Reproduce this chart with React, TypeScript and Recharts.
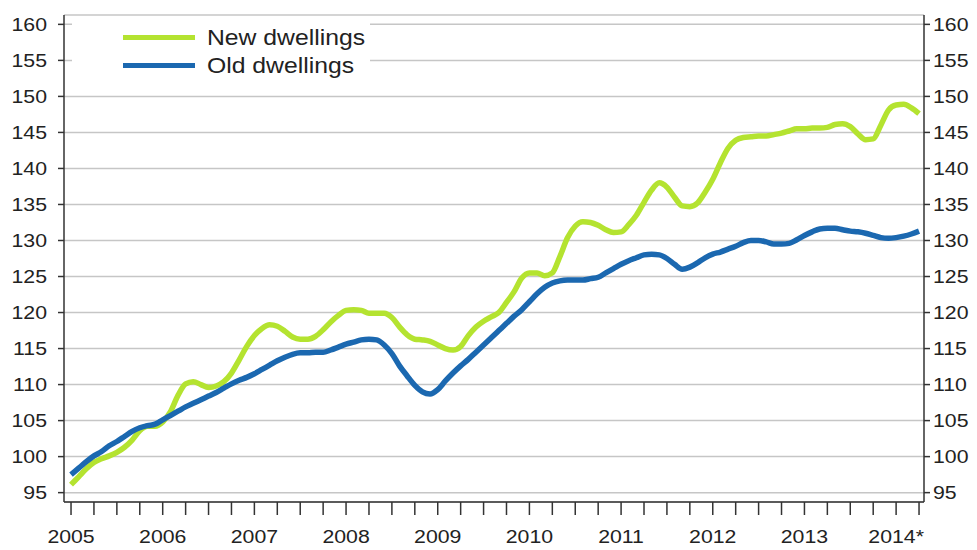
import React from 'react';
import { LineChart, Line, XAxis, YAxis, CartesianGrid } from 'recharts';

const newDwellings = [
  96.1, 97.2, 98.3, 99.2, 99.7, 100.1, 100.6, 101.3, 102.3, 103.6, 104.2, 104.2,
  104.8, 106.2, 108.5, 110.1, 110.4, 110.0, 109.6, 109.8, 110.4, 111.6, 113.4, 115.3,
  116.8, 117.8, 118.3, 118.1, 117.4, 116.6, 116.3, 116.3, 116.7, 117.6, 118.7, 119.6,
  120.3, 120.4, 120.3, 119.9, 119.9, 119.9, 119.3, 118.0, 116.9, 116.3, 116.2, 116.0,
  115.5, 115.0, 114.8, 115.3, 116.8, 118.0, 118.8, 119.4, 120.0, 121.4, 122.9, 124.8,
  125.5, 125.5, 125.1, 125.5, 127.8, 130.4, 132.0, 132.6, 132.5, 132.1, 131.5, 131.1,
  131.2, 132.2, 133.5, 135.3, 137.0, 138.0, 137.4, 136.0, 134.8, 134.7, 135.2, 136.7,
  138.5, 140.8, 142.8, 143.9, 144.3, 144.4, 144.5, 144.5, 144.7, 144.9, 145.2, 145.5,
  145.5, 145.6, 145.6, 145.7, 146.1, 146.2, 145.8, 144.8, 144.0, 144.1, 146.0, 148.1,
  148.8, 148.9, 148.4, 147.6,
];

const oldDwellings = [
  97.5, 98.4, 99.3, 100.1, 100.7, 101.5, 102.1, 102.8, 103.5, 104.0, 104.3, 104.5,
  105.1, 105.7, 106.3, 106.9, 107.4, 107.9, 108.4, 108.9, 109.5, 110.1, 110.6, 111.0,
  111.5, 112.1, 112.7, 113.3, 113.8, 114.2, 114.4, 114.4, 114.5, 114.5, 114.8, 115.2,
  115.6, 115.9, 116.2, 116.3, 116.2, 115.5, 114.3, 112.6, 111.2, 109.9, 109.0, 108.7,
  109.3, 110.5, 111.6, 112.6, 113.5, 114.5, 115.5, 116.5, 117.5, 118.5, 119.5, 120.4,
  121.5, 122.6, 123.5, 124.1, 124.4, 124.5, 124.5, 124.5, 124.7, 124.9, 125.5, 126.1,
  126.7, 127.2, 127.6, 128.0, 128.1, 128.0, 127.5, 126.7, 126.0, 126.3, 126.9, 127.6,
  128.1, 128.4, 128.8, 129.2, 129.7, 130.0, 130.0, 129.8, 129.5, 129.5, 129.6, 130.1,
  130.7, 131.2, 131.6, 131.7, 131.7, 131.5, 131.3, 131.2, 131.0, 130.7, 130.4, 130.3,
  130.4, 130.6, 130.9, 131.3,
];

const yearLabels = ['2005', '2006', '2007', '2008', '2009', '2010', '2011', '2012', '2013', '2014*'];
const seriesNames = ['New dwellings', 'Old dwellings'];
const seriesColors = ['#b4e330', '#1b68b0'];
const yTicks = [95, 100, 105, 110, 115, 120, 125, 130, 135, 140, 145, 150, 155, 160];

const data = newDwellings.map((v, i) => ({ i, newD: v, oldD: oldDwellings[i] }));
const xTicks = Array.from({ length: Math.floor((data.length - 1) / 3) + 1 }, (_, k) => k * 3);

const FONT = '"Liberation Sans", Arial, Helvetica, sans-serif';
const SX = 1.15;
const TEXT = '#222';
const AXIS = '#333';
const X_DOMAIN: [number, number] = [-0.92, 111.65];
const Y_DOMAIN: [number, number] = [93.7, 161.3];

const LeftTick = (props: any) => {
  const { x, y, payload } = props;
  return (
    <text transform={`translate(${x},${y}) scale(${SX},1)`} textAnchor="end" dy="0.36em"
      fontSize={18.5} fontFamily={FONT} fill={TEXT}>{payload.value}</text>
  );
};

const RightTick = (props: any) => {
  const { x, y, payload } = props;
  return (
    <text transform={`translate(${x},${y}) scale(${SX},1)`} textAnchor="start" dy="0.36em"
      fontSize={18.5} fontFamily={FONT} fill={TEXT}>{payload.value}</text>
  );
};

const BottomTick = (props: any) => {
  const { x, y, payload } = props;
  const v = payload.value;
  if (v % 12 !== 0) return <g />;
  const label = yearLabels[v / 12];
  return (
    <text transform={`translate(${x},${y}) scale(${SX},1)`} textAnchor="middle" dy="0.71em"
      fontSize={18.5} fontFamily={FONT} fill={TEXT}>{label}</text>
  );
};

export default function App() {
  return (
    <div style={{ position: 'relative', width: 969, height: 542 }}>
      <LineChart width={969} height={542} data={data} margin={{ top: 7, right: 0, bottom: 0, left: 0 }}>
        <CartesianGrid vertical={false} stroke="#c6c6c6" strokeWidth={1.5} />
        <XAxis dataKey="i" type="number" domain={X_DOMAIN} ticks={xTicks} allowDataOverflow
          height={48} tickSize={13} tickMargin={15} interval={0}
          axisLine={{ stroke: AXIS, strokeWidth: 1.5 }} tickLine={{ stroke: AXIS, strokeWidth: 1.5 }}
          tick={BottomTick} />
        <XAxis xAxisId="top" orientation="top" dataKey="i" type="number" domain={X_DOMAIN} allowDataOverflow
          height={0} tick={false} tickLine={false} axisLine={{ stroke: AXIS, strokeWidth: 1.5 }} />
        <YAxis type="number" domain={Y_DOMAIN} ticks={yTicks} allowDataOverflow width={56}
          tickSize={6} tickMargin={11} interval={0}
          axisLine={{ stroke: AXIS, strokeWidth: 1.5 }} tickLine={{ stroke: AXIS, strokeWidth: 1.5 }}
          tick={LeftTick} />
        <YAxis yAxisId="right" orientation="right" type="number" domain={Y_DOMAIN} ticks={yTicks} allowDataOverflow
          width={53} tickSize={6} tickMargin={3} interval={0}
          axisLine={{ stroke: AXIS, strokeWidth: 1.5 }} tickLine={{ stroke: AXIS, strokeWidth: 1.5 }}
          tick={RightTick} />
        <Line type="monotone" dataKey="newD" name={seriesNames[0]} stroke={seriesColors[0]} strokeWidth={5.5}
          dot={false} activeDot={false} isAnimationActive={false} />
        <Line type="monotone" dataKey="oldD" name={seriesNames[1]} stroke={seriesColors[1]} strokeWidth={5.5}
          dot={false} activeDot={false} isAnimationActive={false} />
      </LineChart>
      <div style={{ position: 'absolute', left: 64, top: 10, width: 298, height: 57, background: '#fff' }}>
        {seriesNames.map((name, k) => (
          <div key={name}>
            <div style={{ position: 'absolute', left: 51, top: (k === 0 ? 19 : 47.5) - 2.5, width: 72, height: 5,
              background: seriesColors[k] }} />
            <span style={{ position: 'absolute', left: 135, top: k === 0 ? 7.7 : 36.2, lineHeight: '24px',
              fontSize: 21.5, fontFamily: FONT, color: TEXT, whiteSpace: 'nowrap',
              transform: `scaleX(${SX})`, transformOrigin: 'left center' }}>{name}</span>
          </div>
        ))}
      </div>
    </div>
  );
}
